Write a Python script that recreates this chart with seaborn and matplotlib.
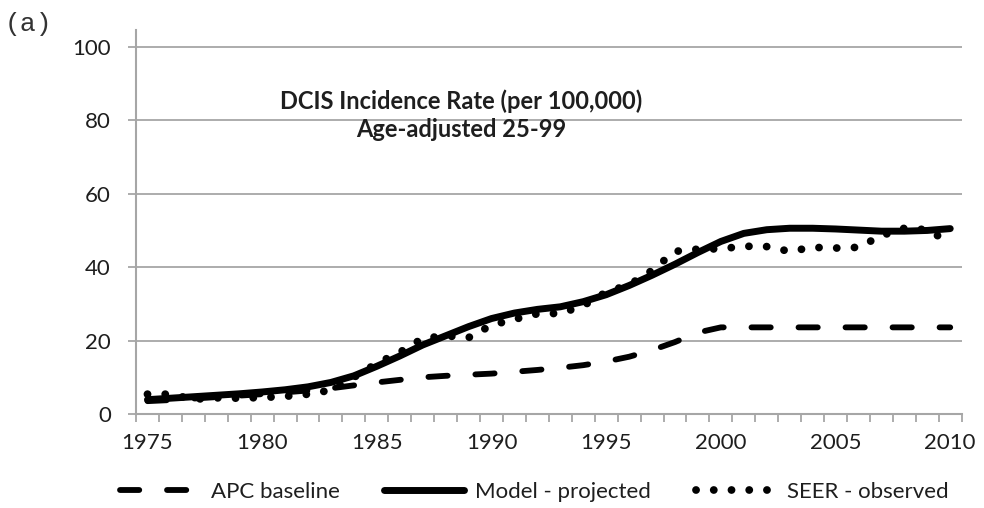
import numpy as np
import pandas as pd
import matplotlib
matplotlib.use("Agg")
import matplotlib.pyplot as plt
from matplotlib.ticker import FixedLocator
import seaborn as sns

years = list(range(1975, 2011))
apc_baseline = [3.5, 3.8, 4.2, 4.6, 5.0, 5.4, 5.9, 6.4, 7.0, 7.8,
                8.6, 9.3, 10.0, 10.4, 10.7, 11.0, 11.5, 12.0, 12.6, 13.3,
                14.3, 15.6, 17.4, 19.6, 22.2, 23.6, 23.6, 23.6, 23.6, 23.6,
                23.6, 23.6, 23.6, 23.6, 23.6, 23.6]
model_projected = [3.9, 4.3, 4.7, 5.1, 5.5, 6.0, 6.6, 7.4, 8.6, 10.4,
                   13.0, 15.8, 18.8, 21.3, 23.8, 26.0, 27.5, 28.5, 29.2, 30.6,
                   32.5, 35.0, 37.8, 40.8, 44.0, 47.0, 49.2, 50.2, 50.6, 50.6,
                   50.4, 50.1, 49.8, 49.8, 50.0, 50.5]
seer_observed = [5.4, 5.4, 4.0, 4.4, 4.3, 4.5, 4.8, 5.4, 6.5, 10.0,
                 13.8, 16.8, 20.6, 21.3, 20.8, 24.2, 25.8, 27.3, 27.4, 29.5,
                 33.2, 35.2, 39.1, 44.3, 44.9, 45.0, 45.7, 45.6, 44.3, 45.4,
                 45.2, 45.4, 48.6, 50.6, 50.2, 46.6]
x_labels = [1975, 1980, 1985, 1990, 1995, 2000, 2005, 2010]
y_ticks = [0, 20, 40, 60, 80, 100]
title_lines = ["DCIS Incidence Rate (per 100,000)", "Age-adjusted 25-99"]
series_names = ["APC baseline", "Model - projected", "SEER - observed"]

df = pd.DataFrame({"year": years, "apc": apc_baseline,
                   "model": model_projected, "seer": seer_observed})

sns.set_theme(style="white")
plt.rcParams['font.family'] = ['Lato', 'DejaVu Sans']

fig = plt.figure(figsize=(9.84, 5.08), dpi=100)
ax = fig.add_axes([136/984, 1-414/508, (961.7-136)/984, (414-30)/508])

grey = "#a6a6a6"
txt = "#1e1e1e"
sns.lineplot(data=df, x="year", y="apc", ax=ax, color="black", lw=4.2,
             linestyle=(0, (3.3, 4.76)), dash_capstyle="round",
             label=series_names[0], zorder=3)
sns.lineplot(data=df, x="year", y="model", ax=ax, color="black", lw=5.0,
             solid_capstyle="round", label=series_names[1], zorder=4)
sns.lineplot(data=df, x="year", y="seer", ax=ax, color="black", lw=5.6,
             linestyle=(0, (0.01, 2.27)), dash_capstyle="round",
             label=series_names[2], zorder=5)

ax.set_xlim(1974.5, 2010.5)
ax.set_ylim(0, 104.6)
ax.xaxis.set_major_locator(FixedLocator(x_labels))
ax.xaxis.set_minor_locator(FixedLocator(np.arange(1974.5, 2011, 1.0)))
ax.yaxis.set_major_locator(FixedLocator(y_ticks))
ax.set_xlabel("")
ax.set_ylabel("")

for y in y_ticks[1:]:
    ax.axhline(y, color=grey, lw=1.3, zorder=1)

for s in ["top", "right"]:
    ax.spines[s].set_visible(False)
for s in ["left", "bottom"]:
    ax.spines[s].set_color(grey)
    ax.spines[s].set_linewidth(1.5)

ax.tick_params(axis="x", which="major", length=0, labelsize=16,
               pad=14, labelcolor=txt)
ax.tick_params(axis="x", which="minor", length=6, width=1.3, color=grey,
               direction="out", bottom=True)
ax.tick_params(axis="y", which="major", length=6, width=1.3, color=grey,
               direction="out", left=True, labelsize=16, pad=12,
               labelcolor=txt)

ax.text(0.394, 0.778, title_lines[0] + "\n" + title_lines[1],
        transform=ax.transAxes, ha="center", va="center",
        fontsize=17, fontweight="bold", color=txt, linespacing=1.3)

fig.text(5/984, 1-24/508, "(a)", family=["Liberation Mono", "DejaVu Sans Mono"],
         fontsize=19, ha="left", va="center", color="#333333")

leg = ax.legend(loc="center", bbox_to_anchor=(0.5*(128+940)/984, 1-492/508),
                bbox_transform=fig.transFigure, ncol=3, frameon=False,
                fontsize=16, handlelength=3.6, handletextpad=0.5,
                columnspacing=2.0)
for t in leg.get_texts():
    t.set_color(txt)

fig.savefig("out.png", dpi=100)
